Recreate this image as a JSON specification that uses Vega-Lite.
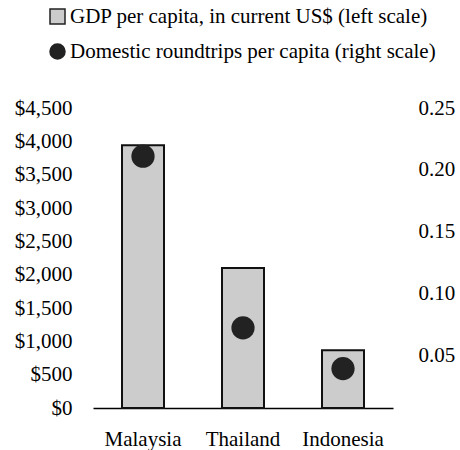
{
  "$schema": "https://vega.github.io/schema/vega-lite/v6.json",
  "autosize": "none",
  "width": 300,
  "height": 300,
  "padding": {"left": 93, "top": 108, "right": 67, "bottom": 42},
  "background": "white",
  "config": {
    "view": {"stroke": null},
    "font": "Liberation Serif",
    "axis": {
      "labelFont": "Liberation Serif",
      "labelFontSize": 21,
      "labelColor": "#000000",
      "grid": false,
      "ticks": false,
      "tickSize": 0,
      "title": null
    },
    "legend": {
      "title": null,
      "orient": "none",
      "legendX": -46,
      "legendY": -102,
      "symbolSize": 225,
      "symbolStrokeWidth": 1.5,
      "symbolStrokeColor": "#222222",
      "labelOffset": 2,
      "rowPadding": 13,
      "labelLimit": 0,
      "labelFont": "Liberation Serif",
      "labelFontSize": 21,
      "labelColor": "#000000"
    }
  },
  "data": {
    "values": [
      {"country": "Malaysia", "gdp": 3940, "trips": 0.211},
      {"country": "Thailand", "gdp": 2100, "trips": 0.072},
      {"country": "Indonesia", "gdp": 865, "trips": 0.039}
    ]
  },
  "encoding": {
    "x": {
      "field": "country",
      "type": "nominal",
      "sort": null,
      "scale": {"paddingInner": 0.58, "paddingOuter": 0.29},
      "axis": {
        "labelAngle": 0,
        "labelPadding": 20,
        "domain": true,
        "domainColor": "#000000",
        "domainWidth": 1.5
      }
    }
  },
  "layer": [
    {
      "mark": {"type": "bar", "stroke": "#111111", "strokeWidth": 2},
      "encoding": {
        "y": {
          "field": "gdp",
          "type": "quantitative",
          "scale": {"domain": [0, 4500], "nice": false},
          "axis": {
            "orient": "left",
            "values": [0, 500, 1000, 1500, 2000, 2500, 3000, 3500, 4000, 4500],
            "format": "$,.0f",
            "domain": false,
            "labelPadding": 21
          }
        },
        "fill": {
          "datum": "GDP per capita, in current US$ (left scale)",
          "type": "nominal",
          "scale": {
            "domain": [
              "GDP per capita, in current US$ (left scale)",
              "Domestic roundtrips per capita (right scale)"
            ],
            "range": ["#cccccc", "#222222"]
          }
        }
      }
    },
    {
      "mark": {"type": "point", "filled": true, "size": 540, "opacity": 1, "strokeWidth": 0},
      "encoding": {
        "y": {
          "field": "trips",
          "type": "quantitative",
          "scale": {"domain": [0.0071, 0.25], "nice": false, "zero": false},
          "axis": {
            "orient": "right",
            "values": [0.05, 0.1, 0.15, 0.2, 0.25],
            "format": ".2f",
            "domain": false,
            "labelPadding": 25
          }
        },
        "fill": {"datum": "Domestic roundtrips per capita (right scale)", "type": "nominal"},
        "shape": {
          "datum": "Domestic roundtrips per capita (right scale)",
          "type": "nominal",
          "scale": {
            "domain": [
              "GDP per capita, in current US$ (left scale)",
              "Domestic roundtrips per capita (right scale)"
            ],
            "range": ["square", "circle"]
          }
        }
      }
    }
  ],
  "resolve": {"scale": {"y": "independent"}}
}
